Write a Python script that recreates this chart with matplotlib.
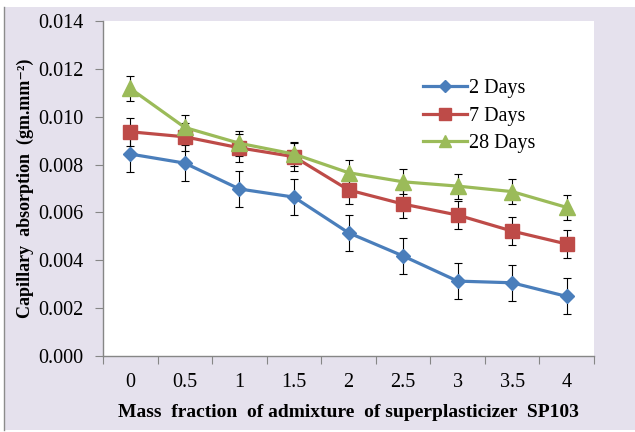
import matplotlib
matplotlib.use("Agg")
import matplotlib.pyplot as plt
from matplotlib.patches import Rectangle
from matplotlib.ticker import FormatStrFormatter

fractions = ["0", "0.5", "1", "1.5", "2", "2.5", "3", "3.5", "4"]
days2 = [0.00844, 0.00806, 0.00698, 0.00664, 0.00515, 0.00418, 0.00313, 0.00306, 0.00249]
days7 = [0.00937, 0.00916, 0.00870, 0.00833, 0.00694, 0.00635, 0.00589, 0.00522, 0.00468]
days28 = [0.01118, 0.00955, 0.00889, 0.00844, 0.00766, 0.00728, 0.00710, 0.00687, 0.00621]
err2 = [0.00075] * 9
err7 = [0.00058] * 9
err28 = [0.00052] * 9

plt.rcParams['font.family'] = ['Liberation Serif', 'DejaVu Serif']

W, H = 635, 432
fig = plt.figure(figsize=(W / 100, H / 100), dpi=100, facecolor='white')

# lavender chart area with thin grey edge on the left
fig.patches.append(Rectangle((4 / W, 2 / H), (W - 4) / W, (H - 9) / H,
                             transform=fig.transFigure, facecolor='#E5E1ED',
                             edgecolor='none', zorder=-2))
fig.lines.append(plt.Line2D([4 / W, 4 / W], [2 / H, (H - 7) / H],
                            transform=fig.transFigure, color='#8C8C8C', lw=1,
                            zorder=-1))

ax = fig.add_axes([103 / W, 76 / H, 491 / W, 335 / H])
ax.set_facecolor('white')

x = list(range(len(fractions)))
series = [
    (days2, err2, '#4A7EBB', 'D', 7.4, '2 Days'),
    (days7, err7, '#BE4B48', 's', 10.5, '7 Days'),
    (days28, err28, '#9BBB59', '^', 11, '28 Days'),
]
for vals, errs, col, mk, ms, lab in series:
    ax.errorbar(x, vals, yerr=errs, fmt='none', ecolor='black', elinewidth=0.8,
                capsize=2.9, capthick=0.8, zorder=2)
    ax.plot(x, vals, color=col, lw=2.3, marker=mk, markersize=ms,
            markerfacecolor=col, markeredgecolor=col, label=lab, zorder=3)

ax.set_xlim(-0.5, 8.5)
ax.set_ylim(0, 0.014)
ax.set_yticks([i * 0.002 for i in range(8)])
ax.yaxis.set_major_formatter(FormatStrFormatter('%.3f'))
ax.set_xticks([i - 0.5 for i in range(10)])
ax.set_xticklabels([])
ax.set_xticks(x, minor=True)
ax.set_xticklabels(fractions, minor=True)
ax.tick_params(axis='x', which='minor', length=0, pad=12, labelsize=14.5)
ax.tick_params(axis='x', which='major', length=6, color='#868686', direction='out')
ax.tick_params(axis='y', length=6, color='#868686', direction='out', labelsize=14.5, pad=8)

for s in ['top', 'right']:
    ax.spines[s].set_visible(False)
for s in ['left', 'bottom']:
    ax.spines[s].set_color('#868686')
    ax.spines[s].set_linewidth(1)

ax.set_xlabel('Mass  fraction  of admixture  of superplasticizer  SP103',
              fontsize=14, fontweight='bold', labelpad=9)
ax.set_ylabel('Capillary  absorption  (gm.mm\u207b\u00b2)', fontsize=13,
              fontweight='bold', labelpad=3)

ax.legend(loc='upper left', bbox_to_anchor=(423 / W, (H - 79) / H),
          bbox_transform=fig.transFigure, frameon=False, fontsize=14.5,
          handlelength=2.2, handletextpad=0.1, labelspacing=0.42,
          borderpad=0, borderaxespad=0, markerscale=0.8)

fig.savefig('out.png', dpi=100, facecolor='white')
